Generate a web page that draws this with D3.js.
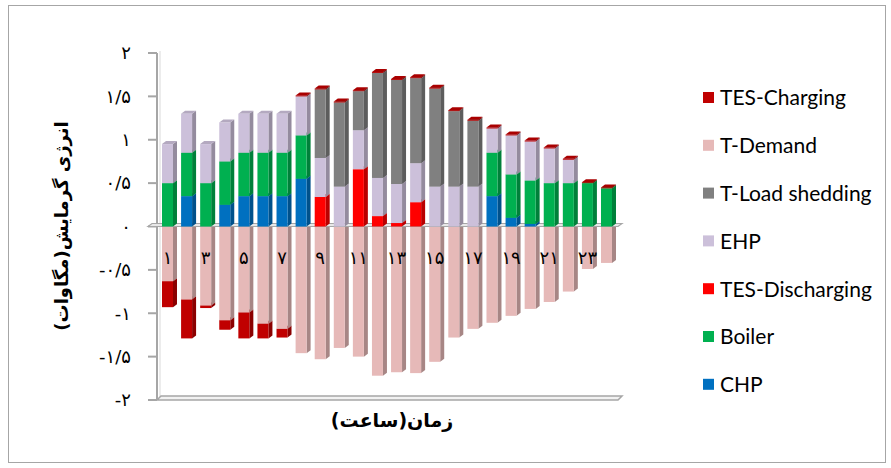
<!DOCTYPE html>
<html><head><meta charset="utf-8">
<script src="https://cdn.jsdelivr.net/npm/d3@7"></script>
<style>body{margin:0;background:#fff}</style>
</head><body><svg id="c" width="891" height="468"></svg>
<script>
// ---- data ----
const hours = d3.range(1, 25);
const CHP            = [0,0.35,0,0.25,0.35,0.35,0.35,0.55,0,0,0,0,0,0,0,0,0,0.35,0.1,0.03,0,0,0,0];
const Boiler         = [0.5,0.5,0.5,0.5,0.5,0.5,0.5,0.5,0,0,0,0,0,0,0,0,0,0.5,0.5,0.5,0.5,0.5,0.5,0.44];
const TESDischarging = [0,0,0,0,0,0,0,0,0.34,0,0.66,0.12,0.04,0.28,0,0,0,0,0,0,0,0,0,0];
const EHP            = [0.45,0.45,0.45,0.45,0.45,0.45,0.45,0.45,0.45,0.46,0.45,0.44,0.45,0.45,0.46,0.46,0.46,0.28,0.45,0.45,0.4,0.27,0,0];
const TLoadShedding  = [0,0,0,0,0,0,0,0,0.79,0.97,0.45,1.21,1.2,0.98,1.13,0.87,0.76,0,0,0,0,0,0,0];
const TDemand        = [-0.63,-0.84,-0.91,-1.08,-0.99,-1.12,-1.18,-1.46,-1.53,-1.40,-1.50,-1.72,-1.68,-1.69,-1.56,-1.28,-1.18,-1.11,-1.03,-0.95,-0.87,-0.75,-0.49,-0.42];
const TESCharging    = [-0.30,-0.45,-0.03,-0.11,-0.30,-0.17,-0.10,0,0,0,0,0,0,0,0,0,0,0,0,0,0,0,0,0];

const seriesNames  = ["CHP","Boiler","TES-Discharging","EHP","T-Load shedding","T-Demand","TES-Charging"];
const seriesValues = [CHP, Boiler, TESDischarging, EHP, TLoadShedding, TDemand, TESCharging];
const seriesColors = ["#0070C0","#00B050","#FF0000","#CCC0DA","#808080","#E6B9B8","#C00000"];
const legendOrder  = ["TES-Charging","T-Demand","T-Load shedding","EHP","TES-Discharging","Boiler","CHP"];
const yTicks = [-2,-1.5,-1,-0.5,0,0.5,1,1.5,2];
const xTickHours = [1,3,5,7,9,11,13,15,17,19,21,23];
const yTitle = "انرژی گرمایش(مگاوات)";
const xTitle = "زمان(ساعت)";

// ---- helpers ----
const faDigits = "۰۱۲۳۴۵۶۷۸۹";
function fa(v){
  const s = String(Math.abs(v)).replace(".", "/").replace(/\d/g, d => faDigits[+d]);
  return (v < 0 ? "-" : "") + s;
}
const colorOf = d3.scaleOrdinal().domain(seriesNames).range(seriesColors);

const rows = hours.map((h, i) => {
  const r = {hour: h};
  seriesNames.forEach((n, k) => r[n] = seriesValues[k][i]);
  return r;
});
const stacked = d3.stack().keys(seriesNames).offset(d3.stackOffsetDiverging)(rows);

const svg = d3.select("#c");
const x = d3.scaleBand().domain(hours).range([157, 617]).paddingInner(0.424).paddingOuter(0.262);
const y = d3.scaleLinear().domain([-2, 2]).range([400, 53]);
const DX = 4, DY = 3;

// border
svg.append("rect").attr("x", 8.5).attr("y", 5.5).attr("width", 877).attr("height", 457)
  .attr("fill", "#fff").attr("stroke", "#A6A6A6").attr("stroke-width", 1);

// wall / floor
const wallG = svg.append("g");
wallG.append("line").attr("x1", 157).attr("x2", 157).attr("y1", y(2)).attr("y2", y(-2))
  .attr("stroke", "#A6A6A6").attr("stroke-width", 2);
wallG.append("line").attr("x1", 160).attr("x2", 160).attr("y1", y(2)-2).attr("y2", y(-2)-3)
  .attr("stroke", "#D9D9D9").attr("stroke-width", 1);
wallG.append("polygon").attr("points", [[157,y(-2)],[161,y(-2)-4],[622,y(-2)-4],[618,y(-2)]].join(" "))
  .attr("fill", "#F2F2F2").attr("stroke", "#A6A6A6").attr("stroke-width", 1.5);

// y axis ticks + labels
const ya = svg.append("g");
yTicks.forEach(t => {
  ya.append("line").attr("x1", 148).attr("x2", 157).attr("y1", y(t)).attr("y2", y(t))
    .attr("stroke", "#A6A6A6").attr("stroke-width", 2);
  ya.append("text").attr("x", 131).attr("y", y(t)).attr("dy", "0.35em")
    .attr("text-anchor", "end").attr("font-family", "DejaVu Sans").attr("font-size", 18)
    .attr("fill", "#000").text(fa(t));
});

// segments
const segs = [];
stacked.forEach(s => {
  s.forEach((d, j) => {
    const v = d.data[s.key];
    if (v === 0 || v == null) return;
    segs.push({key: s.key, hour: d.data.hour, lo: Math.min(d[0], d[1]), hi: Math.max(d[0], d[1]), v});
  });
});
const caps = [];
hours.forEach((h, i) => {
  if (TESCharging[i] === 0) {
    const top = d3.max(stacked, s => s[i][1]);
    caps.push({key: "TES-Charging", hour: h, lo: top, hi: top});
  }
});

function drawSeg(g, d) {
  const c = colorOf(d.key);
  const x0 = x(d.hour), w = x.bandwidth();
  const top = y(d.hi), bot = y(d.lo);
  const sg = g.append("g");
  sg.append("polygon").attr("points", [[x0+w,top],[x0+w+DX,top-DY],[x0+w+DX,bot-DY],[x0+w,bot]].join(" "))
    .attr("fill", d3.color(c).darker(0.9));
  sg.append("polygon").attr("points", [[x0,top],[x0+DX,top-DY],[x0+w+DX,top-DY],[x0+w,top]].join(" "))
    .attr("fill", d3.color(c).darker(0.35));
  if (bot - top > 0) sg.append("rect").attr("x", x0).attr("y", top).attr("width", w).attr("height", bot - top).attr("fill", c);
}

const negG = svg.append("g");
segs.filter(d => d.v < 0).sort((a, b) => a.lo - b.lo).forEach(d => drawSeg(negG, d));

// zero plane
svg.append("polygon").attr("points", [[148,y(0)],[152,y(0)-3],[622,y(0)-3],[618,y(0)]].join(" "))
  .attr("fill", "#E8E8E8").attr("stroke", "#A6A6A6").attr("stroke-width", 1.2);

const posG = svg.append("g");
segs.filter(d => d.v > 0).sort((a, b) => a.lo - b.lo).forEach(d => drawSeg(posG, d));
caps.forEach(d => drawSeg(posG, {key: d.key, hour: d.hour, lo: d.lo, hi: d.hi + 0.01}));

// x tick labels
const xa = svg.append("g");
xTickHours.forEach(h => {
  xa.append("text").attr("x", x(h) + x.bandwidth()/2).attr("y", 258).attr("dy", "0.35em")
    .attr("text-anchor", "middle").attr("font-family", "DejaVu Sans").attr("font-size", 18)
    .attr("fill", "#000").text(fa(h));
});

// axis titles
svg.append("text").attr("transform", "translate(62,226) rotate(-90)")
  .attr("text-anchor", "middle").attr("dy", "0.35em")
  .attr("font-family", "DejaVu Sans").attr("font-weight", "bold").attr("font-size", 18)
  .attr("direction", "rtl").text(yTitle);
svg.append("text").attr("x", 392).attr("y", 420).attr("dy", "0.35em")
  .attr("text-anchor", "middle").attr("font-family", "DejaVu Sans").attr("font-weight", "bold")
  .attr("font-size", 19).attr("direction", "rtl").text(xTitle);

// legend
const lg = svg.append("g");
legendOrder.forEach((n, i) => {
  const cy = 98 + i * 47.8;
  lg.append("rect").attr("x", 703).attr("y", cy - 6).attr("width", 11).attr("height", 11).attr("fill", colorOf(n));
  lg.append("text").attr("x", 720).attr("y", cy).attr("dy", "0.35em")
    .attr("font-family", "Lato").attr("font-size", 21).attr("fill", "#000").text(n);
});
</script></body></html>
